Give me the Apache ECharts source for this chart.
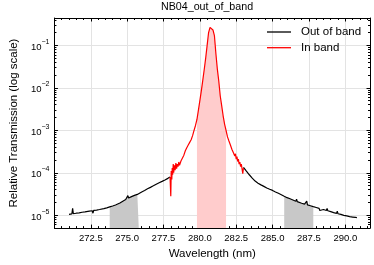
<!DOCTYPE html>
<html><head><meta charset="utf-8">
<script src="https://cdn.jsdelivr.net/npm/echarts@6/dist/echarts.min.js"></script>
<style>html,body{margin:0;padding:0;background:#fff}#c{width:374px;height:265px}</style>
</head><body><div id="c"></div>
<script>
// ---- data ----
const leftWavelength = [271.0,271.1,271.2,271.25,271.3,271.5,271.7,271.9,272.1,272.15,272.2,272.4,272.6,272.65,272.7,272.9,273.1,273.15,273.2,273.4,273.6,273.8,274.0,274.2,274.25,274.3,274.5,274.7,274.9,275.0,275.05,275.1,275.3,275.5,275.7,275.8,276.0,276.2,276.4,276.6,276.8,277.0,277.2,277.4,277.6,277.8,277.95];
const leftTransmission = [1.05e-5,1.07e-5,1.08e-5,1.45e-5,1.09e-5,1.12e-5,1.14e-5,1.18e-5,1.2e-5,1.32e-5,1.21e-5,1.25e-5,1.28e-5,1.12e-5,1.3e-5,1.33e-5,1.37e-5,1.5e-5,1.39e-5,1.44e-5,1.5e-5,1.58e-5,1.66e-5,1.75e-5,1.6e-5,1.8e-5,1.95e-5,2.15e-5,2.35e-5,2.45e-5,2.9e-5,2.55e-5,2.75e-5,2.95e-5,3.1e-5,3.25e-5,3.55e-5,3.85e-5,4.2e-5,4.55e-5,4.95e-5,5.4e-5,5.85e-5,6.3e-5,6.8e-5,7.4e-5,8.0e-5];

const inBandWavelength = [277.95,278.0,278.03,278.07,278.1,278.13,278.17,278.2,278.25,278.3,278.35,278.4,278.45,278.5,278.55,278.6,278.7,278.8,278.9,279.0,279.1,279.2,279.3,279.4,279.5,279.6,279.7,279.8,279.9,280.0,280.1,280.2,280.3,280.4,280.5,280.6,280.7,280.75,280.8,280.9,281.0,281.1,281.2,281.3,281.4,281.5,281.6,281.7,281.8,281.9,282.0,282.1,282.2,282.3,282.4,282.45,282.5,282.55,282.6,282.65,282.7,282.75,282.8,282.85,282.9,282.95,283.0];
const inBandTransmission = [8.0e-5,2.8e-5,1.1e-4,7e-5,1.3e-4,9e-5,1.6e-4,1.0e-4,1.5e-4,1.15e-4,1.7e-4,1.25e-4,1.6e-4,1.4e-4,1.8e-4,1.5e-4,1.9e-4,2.1e-4,2.6e-4,3.3e-4,3.9e-4,4.5e-4,5.2e-4,6.0e-4,7.5e-4,1.0e-3,1.3e-3,1.8e-3,3.0e-3,5.0e-3,8.5e-3,0.015,0.027,0.05,0.10,0.20,0.265,0.272,0.265,0.23,0.17,0.065,0.028,0.0145,6.5e-3,3.8e-3,2.2e-3,1.4e-3,1.0e-3,7.0e-4,5.6e-4,4.5e-4,3.6e-4,3.0e-4,2.5e-4,2.8e-4,2.1e-4,2.4e-4,1.85e-4,2.1e-4,1.6e-4,1.8e-4,1.4e-4,1.6e-4,1.25e-4,9.5e-5,1.3e-4];

const rightWavelength = [283.0,283.2,283.4,283.6,283.8,284.0,284.2,284.4,284.6,284.8,285.0,285.2,285.4,285.6,285.8,286.0,286.2,286.4,286.6,286.65,286.7,286.8,287.0,287.2,287.35,287.4,287.6,287.8,288.0,288.2,288.25,288.3,288.5,288.7,288.75,288.8,289.0,289.2,289.4,289.45,289.5,289.7,289.9,290.1,290.3,290.5,290.7,290.8];
const rightTransmission = [1.35e-4,1.1e-4,9.0e-5,7.5e-5,6.4e-5,5.7e-5,5.2e-5,4.8e-5,4.4e-5,4.1e-5,3.85e-5,3.55e-5,3.3e-5,3.05e-5,2.8e-5,2.6e-5,2.45e-5,2.3e-5,2.15e-5,2.4e-5,2.1e-5,2.02e-5,1.92e-5,1.83e-5,2.15e-5,1.76e-5,1.68e-5,1.6e-5,1.53e-5,1.46e-5,1.3e-5,1.44e-5,1.37e-5,1.3e-5,1.45e-5,1.28e-5,1.22e-5,1.16e-5,1.11e-5,1.25e-5,1.09e-5,1.05e-5,1.0e-5,9.7e-6,9.3e-6,9.1e-6,8.9e-6,8.8e-6];

const grayBands = [[273.8, 275.8], [285.8, 287.8]];
const pinkBand = [279.8, 281.8];

const xTickLabels = ['272.5','275.0','277.5','280.0','282.5','285.0','287.5','290.0'];
const yTickValues = [1e-5, 1e-4, 1e-3, 1e-2, 1e-1];

// ---- helpers ----
const pairs = (xs, ys) => xs.map((x, i) => [x, ys[i]]);
const within = (pts, band) => pts.filter(p => p[0] >= band[0] - 1e-9 && p[0] <= band[1] + 1e-9);
const leftPts = pairs(leftWavelength, leftTransmission);
const redPts = pairs(inBandWavelength, inBandTransmission);
const rightPts = pairs(rightWavelength, rightTransmission);

const FONT = 'Liberation Sans';
const X_MIN = 270, X_MAX = 291.7, Y_MIN = 5e-6, Y_MAX = 0.44;
const xMajor = xTickLabels.map(Number);
const xMinor = [];
for (let k = 540; k <= 583; k++) { if (k % 5 !== 0) xMinor.push(k / 2); }
const yMinor = [];
for (let e = -6; e <= -1; e++) for (let m = 2; m <= 9; m++) {
  const v = m * Math.pow(10, e);
  if (v > Y_MIN && v < Y_MAX) yMinor.push(v);
}
const frameLine = { show: true, onZero: false, lineStyle: { color: '#000', width: 1 } };
const noLine = { show: false };
const tickStyle = { color: '#000', width: 1 };

function xAx(pos, ticks, len, main) {
  return {
    type: 'value', position: pos, min: X_MIN, max: X_MAX, interval: 2.5,
    axisLine: main ? frameLine : noLine,
    axisTick: { show: true, inside: true, length: len, customValues: ticks, lineStyle: tickStyle },
    axisLabel: (main && pos === 'bottom') ? {
      show: true, customValues: xMajor, formatter: v => v.toFixed(1),
      fontSize: 9.5, fontFamily: FONT, color: '#000', margin: 5
    } : { show: false },
    splitLine: (main && pos === 'bottom') ? { show: true, lineStyle: { color: '#e3e3e3', width: 1 } } : { show: false },
    minorTick: { show: false }
  };
}
function yAx(pos, ticks, len, main) {
  return {
    type: 'log', logBase: 10, position: pos, min: Y_MIN, max: Y_MAX,
    axisLine: main ? frameLine : noLine,
    axisTick: { show: true, inside: true, length: len, customValues: ticks, lineStyle: tickStyle },
    axisLabel: (main && pos === 'left') ? {
      show: true, customValues: yTickValues, margin: 5,
      formatter: v => '{b|10}{s|\u2212' + Math.round(-Math.log10(v)) + '}',
      rich: {
        b: { fontSize: 9.5, fontFamily: FONT, color: '#000', verticalAlign: 'bottom', lineHeight: 14 },
        s: { fontSize: 7, fontFamily: FONT, color: '#000', verticalAlign: 'top', lineHeight: 14 }
      }
    } : { show: false },
    splitLine: (main && pos === 'left') ? { show: true, lineStyle: { color: '#e3e3e3', width: 1 } } : { show: false },
    minorTick: { show: false }
  };
}

const xAxes = [xAx('bottom', xMajor, 3.5, true), xAx('bottom', xMinor, 2, false), xAx('top', xMajor, 3.5, true), xAx('top', xMinor, 2, false)];
xAxes[0].name = 'Wavelength (nm)';
xAxes[0].nameLocation = 'middle';
xAxes[0].nameGap = 19;
xAxes[0].nameTextStyle = { fontSize: 11.5, fontFamily: FONT, color: '#000' };
const yAxes = [yAx('left', yTickValues, 3.5, true), yAx('left', yMinor, 2, false), yAx('right', yTickValues, 3.5, true), yAx('right', yMinor, 2, false)];
yAxes[0].name = 'Relative Transmission (log scale)';
yAxes[0].nameLocation = 'middle';
yAxes[0].nameGap = 31;
yAxes[0].nameTextStyle = { fontSize: 11.5, fontFamily: FONT, color: '#000' };

const fill = (name, data, color) => ({
  type: 'line', name, data, symbol: 'none', silent: true, z: 1,
  lineStyle: { width: 0, opacity: 0 }, areaStyle: { color, opacity: 1, origin: 'start' }
});
const line = (name, data, color, z) => ({
  type: 'line', name, data, symbol: 'none', showSymbol: false, z,
  lineStyle: { color, width: 1.2 }, itemStyle: { color }
});

const chart = echarts.init(document.getElementById('c'), null, { renderer: 'canvas' });
chart.setOption({
  animation: false,
  backgroundColor: '#fff',
  title: {
    text: 'NB04_out_of_band', left: 161, top: 2, padding: 0,
    textStyle: { fontSize: 10.7, fontWeight: 'normal', color: '#000', fontFamily: FONT }
  },
  legend: {
    data: ['Out of band', 'In band'], orient: 'vertical', left: 262, top: 20,
    icon: 'rect', itemWidth: 24, itemHeight: 1.3, itemGap: 1.7,
    textStyle: { fontSize: 11.5, lineHeight: 14, fontFamily: FONT, color: '#000', padding: [0, 0, 0, 5] }
  },
  grid: { left: 45, right: 4, top: 18, bottom: 33, containLabel: false },
  xAxis: xAxes,
  yAxis: yAxes,
  series: [
    fill('gray1', within(leftPts, grayBands[0]), '#c8c8c8'),
    fill('gray2', within(rightPts, grayBands[1]), '#c8c8c8'),
    fill('pink', within(redPts, pinkBand), '#ffcccc'),
    line('Out of band', leftPts, '#000000', 3),
    line('Out of band', rightPts, '#000000', 3),
    line('In band', redPts, '#ff0000', 4)
  ]
});
</script></body></html>
